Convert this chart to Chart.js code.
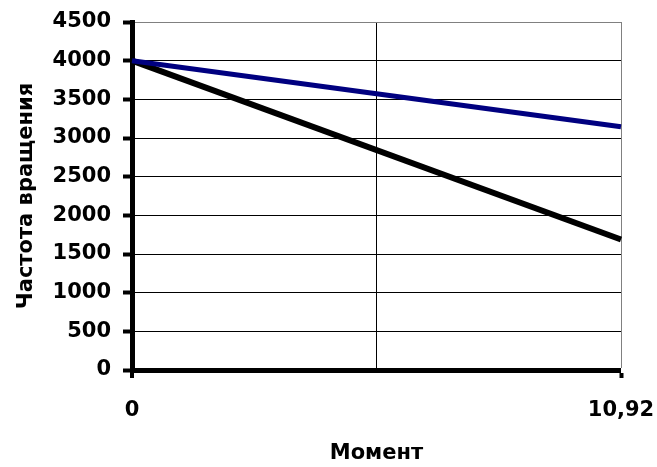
<!DOCTYPE html>
<html>
<head>
<meta charset="utf-8">
<script src="https://cdn.jsdelivr.net/npm/chart.js@4"></script>
<style>
  html, body { margin: 0; padding: 0; background: #fff; }
  #wrap { width: 657px; height: 467px; }
</style>
</head>
<body>
<div id="wrap"><canvas id="chart"></canvas></div>
<script>
// Chart data
const xValues = [0, 10.92];
const blueSeries = [4000, 3145];
const blackSeries = [4000, 1687];
const xTickValues = [0, 5.46, 10.92];
const xTickLabels = ['0', '', '10,92'];
const yMax = 4500;
const yStep = 500;

const FONT = { family: '"DejaVu Sans", sans-serif', size: 21, weight: 'bold' };

const ctx = document.getElementById('chart').getContext('2d');
new Chart(ctx, {
    type: 'line',
    data: {
        datasets: [
            {
                label: 'blue',
                data: xValues.map((x, i) => ({ x: x, y: blueSeries[i] })),
                borderColor: '#000080',
                borderWidth: 5,
                pointRadius: 0,
                clip: false,
                order: 1
            },
            {
                label: 'black',
                data: xValues.map((x, i) => ({ x: x, y: blackSeries[i] })),
                borderColor: '#000000',
                borderWidth: 6,
                pointRadius: 0,
                clip: false,
                order: 2
            }
        ]
    },
    options: {
        responsive: true,
        maintainAspectRatio: false,
        animation: false,
        layout: { padding: { top: 22, right: 36, bottom: 0, left: 0 } },
        plugins: {
            legend: { display: false },
            tooltip: { enabled: false }
        },
        scales: {
            x: {
                type: 'linear',
                min: 0,
                max: 10.92,
                afterBuildTicks: (axis) => {
                    axis.ticks = xTickValues.map(v => ({ value: v }));
                },
                afterFit: (axis) => {
                    axis.height = 97;
                    axis.paddingLeft = 0;
                    axis.paddingRight = 0;
                },
                border: { display: true, color: '#000', width: 5 },
                grid: {
                    color: (c) => c.index === 2 ? '#808080' : '#000',
                    lineWidth: (c) => c.index === 0 ? 0 : 1,
                    tickColor: (c) => c.index === 1 ? 'rgba(0,0,0,0)' : '#000',
                    tickWidth: 4,
                    tickLength: 8
                },
                ticks: {
                    autoSkip: false,
                    maxRotation: 0,
                    padding: 20,
                    color: '#000',
                    font: FONT,
                    callback: (v, i) => xTickLabels[i]
                },
                title: {
                    display: true,
                    text: 'Момент',
                    color: '#000',
                    font: FONT,
                    padding: { top: 0, bottom: 1 }
                }
            },
            y: {
                min: 0,
                max: yMax,
                afterFit: (axis) => {
                    axis.width = 132;
                    axis.paddingTop = 0;
                    axis.paddingBottom = 0;
                },
                border: { display: true, color: '#000', width: 5 },
                grid: {
                    color: (c) => c.tick && c.tick.value === yMax ? '#808080' : '#000',
                    lineWidth: 1,
                    tickColor: '#000',
                    tickWidth: 4,
                    tickLength: 9
                },
                ticks: {
                    stepSize: yStep,
                    padding: 12,
                    color: '#000',
                    font: FONT,
                    callback: (v) => String(v)
                },
                title: {
                    display: true,
                    text: 'Частота вращения',
                    color: '#000',
                    font: FONT,
                    padding: { top: 14, bottom: 0 }
                }
            }
        }
    }
});
</script>
</body>
</html>
